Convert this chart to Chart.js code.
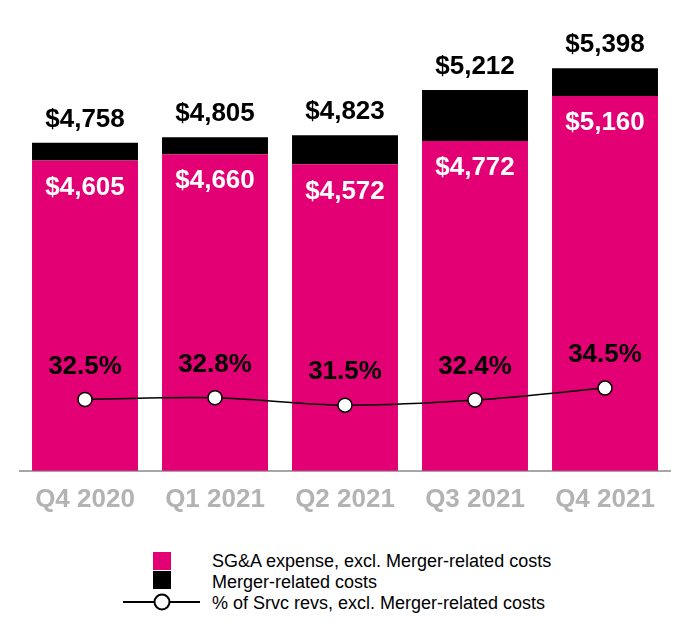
<!DOCTYPE html>
<html>
<head>
<meta charset="utf-8">
<script src="https://cdn.jsdelivr.net/npm/chart.js@4.4.1/dist/chart.umd.min.js"></script>
<style>
  body { margin: 0; background: #fff; font-family: "Liberation Sans", Arial, sans-serif; }
  #wrap { position: relative; width: 690px; height: 640px; }
  #box { position: absolute; left: 0; top: 0; width: 690px; height: 528px; }
  .leg { position: absolute; left: 212px; font-size: 18px; color: #000; line-height: 20px; white-space: nowrap; }
  .sw { position: absolute; left: 153px; width: 18px; height: 18px; }
</style>
</head>
<body>
<div id="wrap">
  <div id="box"><canvas id="myChart"></canvas></div>
  <div class="sw" style="top:552px;background:#e20074"></div>
  <div class="sw" style="top:571px;background:#000"></div>
  <svg style="position:absolute;left:120px;top:592px" width="84" height="20">
    <line x1="3" y1="10" x2="80" y2="10" stroke="#000" stroke-width="2"/>
    <circle cx="42" cy="10" r="7.5" fill="#fff" stroke="#000" stroke-width="2"/>
  </svg>
  <div class="leg" style="top:551px">SG&amp;A expense, excl. Merger-related costs</div>
  <div class="leg" style="top:572px">Merger-related costs</div>
  <div class="leg" style="top:593px">% of Srvc revs, excl. Merger-related costs</div>
</div>
<script>
const labels = ['Q4 2020', 'Q1 2021', 'Q2 2021', 'Q3 2021', 'Q4 2021'];
const sgaExMerger = [4605, 4660, 4572, 4772, 5160];
const totalSga = [4758, 4805, 4823, 5212, 5398];
const pctOfService = [32.5, 32.8, 31.5, 32.4, 34.5];

const mergerCosts = totalSga.map((t, i) => t - sgaExMerger[i]);
const fmt = v => '$' + v.toLocaleString('en-US');

// draws the value labels on bars and points
const valueLabels = {
  id: 'valueLabels',
  afterDatasetsDraw(chart) {
    const ctx = chart.ctx;
    const sga = chart.getDatasetMeta(0).data;
    const merger = chart.getDatasetMeta(1).data;
    const pts = chart.getDatasetMeta(2).data;
    ctx.save();
    ctx.font = 'bold 26px "Liberation Sans", Arial, sans-serif';
    ctx.textAlign = 'center';
    ctx.textBaseline = 'middle';
    labels.forEach((l, i) => {
      ctx.fillStyle = '#000';
      ctx.fillText(fmt(totalSga[i]), merger[i].x, merger[i].y - 23);
      ctx.fillStyle = '#fff';
      ctx.fillText(fmt(sgaExMerger[i]), sga[i].x, sga[i].y + 27);
      ctx.fillStyle = '#000';
      ctx.fillText(pctOfService[i].toFixed(1) + '%', pts[i].x, pts[i].y - 33);
    });
    ctx.restore();
  }
};

const myChart = new Chart(document.getElementById('myChart'), {
  type: 'bar',
  data: {
    labels: labels,
    datasets: [{
      label: 'SG&A expense, excl. Merger-related costs',
      data: sgaExMerger,
      backgroundColor: '#e20074',
      order: 1
    }, {
      label: 'Merger-related costs',
      data: mergerCosts,
      backgroundColor: '#000',
      order: 1
    }, {
      type: 'line',
      label: '% of Srvc revs, excl. Merger-related costs',
      data: pctOfService,
      yAxisID: 'y2',
      borderColor: '#000',
      borderWidth: 1.5,
      tension: 0.35,
      pointRadius: 7,
      pointBackgroundColor: '#fff',
      pointBorderColor: '#000',
      pointBorderWidth: 1.5,
      order: 0
    }]
  },
  options: {
    responsive: true,
    maintainAspectRatio: false,
    animation: false,
    layout: { padding: { top: 20, left: 20, right: 20, bottom: 0 } },
    datasets: { bar: { categoryPercentage: 1, barPercentage: 0.815 } },
    plugins: { legend: { display: false }, tooltip: { enabled: false } },
    scales: {
      x: {
        stacked: true,
        grid: { display: false, drawTicks: false },
        border: { color: '#a6a6a6', width: 2 },
        ticks: {
          color: '#b3b3b3',
          padding: 13,
          font: { family: '"Liberation Sans", Arial, sans-serif', size: 26, weight: 'bold' }
        }
      },
      y: { stacked: true, display: false, min: 1938, max: 5813 },
      y2: { display: false, min: 20, max: 99 }
    }
  },
  plugins: [valueLabels]
});
</script>
</body>
</html>
